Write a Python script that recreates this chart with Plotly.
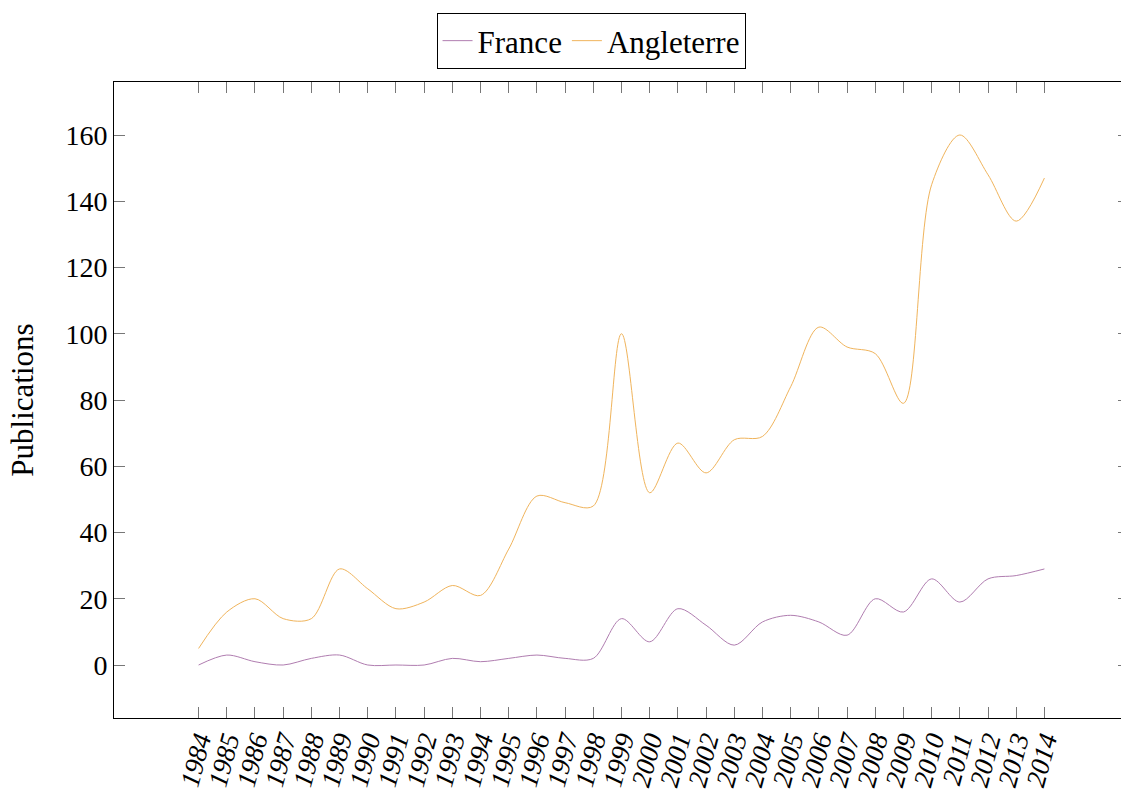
import plotly.graph_objects as go

years = list(range(1984, 2015))
france = [0, 3, 1, 0, 2, 3, 0, 0, 0, 2, 1, 2, 3, 2, 2, 14, 7, 17, 12, 6, 13, 15, 13, 9, 20, 16, 26, 19, 26, 27, 29]
angleterre = [5, 16, 20, 14, 14, 29, 23, 17, 19, 24, 21, 35, 51, 49, 48, 100, 52, 67, 58, 68, 69, 84, 102, 96, 94, 79, 145, 160, 148, 134, 147]
y_ticks = [0, 20, 40, 60, 80, 100, 120, 140, 160]

serif = "Liberation Serif, DejaVu Serif, serif"

fig = go.Figure()
fig.add_trace(go.Scatter(x=years, y=france, name="France", mode="lines",
                         line=dict(color="#b07db0", width=1, shape="spline", smoothing=0.9)))
fig.add_trace(go.Scatter(x=years, y=angleterre, name="Angleterre", mode="lines",
                         line=dict(color="#f0b45c", width=1, shape="spline", smoothing=0.9)))

fig.update_layout(
    width=1130, height=793, autosize=False,
    margin=dict(l=114, r=1, t=82, b=75),
    plot_bgcolor="white", paper_bgcolor="white",
    font=dict(family=serif, color="black", size=28),
    showlegend=True,
    legend=dict(orientation="h", x=0.470, xanchor="center", y=1.1085, yanchor="top",
                bordercolor="black", borderwidth=1, bgcolor="white",
                font=dict(size=31, family=serif), itemwidth=30, tracegroupgap=0),
    xaxis=dict(range=[1981, 2017], tickmode="array", tickvals=years,
               ticktext=[str(y) for y in years], tickangle=-75,
               tickfont=dict(size=27, family=serif, style="italic"),
               ticks="inside", ticklen=11, tickcolor="#777777", mirror="ticks",
               ticklabelstandoff=-5,
               showline=True, linecolor="black", linewidth=1, showgrid=False, zeroline=False,
               automargin=False),
    yaxis=dict(range=[-16, 176], tickmode="array", tickvals=y_ticks,
               ticks="inside", ticklen=11, tickcolor="#777777", mirror="ticks",
               showline=True, linecolor="black", linewidth=1, showgrid=False, zeroline=False,
               title=dict(text="Publications", font=dict(size=31, family=serif), standoff=22),
               tickfont=dict(size=28, family=serif), automargin=False),
)

post = ("document.body.style.margin='0';document.body.style.overflow='hidden';"
        "document.documentElement.style.overflow='hidden';")

fig.write_html("out.html", config={"responsive": False, "displayModeBar": False}, post_script=post)
